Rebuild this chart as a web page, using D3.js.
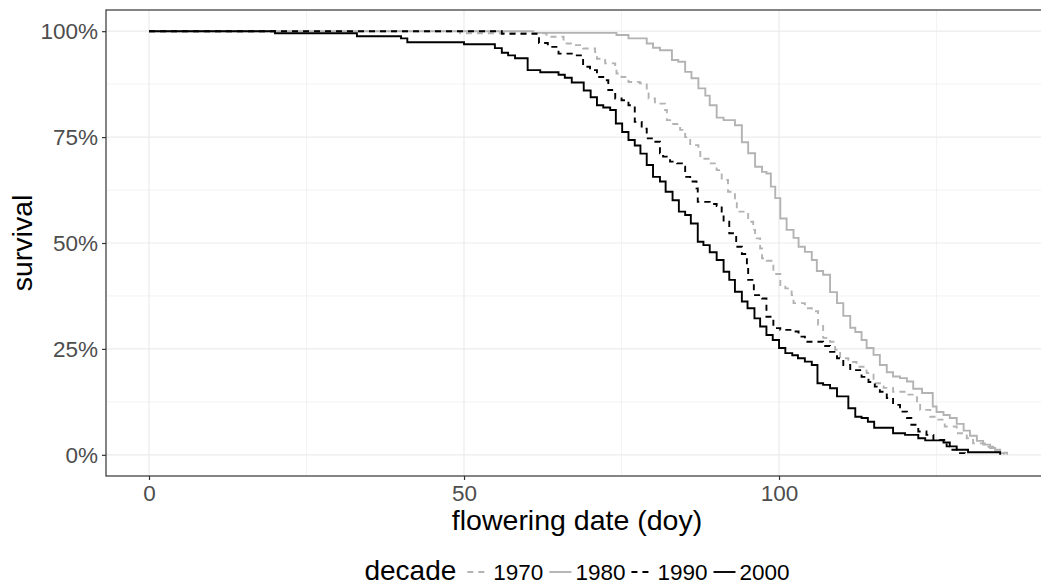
<!DOCTYPE html>
<html>
<head>
<meta charset="utf-8">
<script src="https://cdn.jsdelivr.net/npm/d3@7/dist/d3.min.js"></script>
<style>
  body { margin: 0; background: #fff; }
  svg { display: block; font-family: "Liberation Sans", Arial, sans-serif; }
</style>
</head>
<body>
<div id="chart"></div>
<script>
// survival curves: [flowering day, % not yet flowered]
var decades = ["1970", "1980", "1990", "2000"]

var surv1970 = [[0,100],[49.4,99.5],[63.1,98.7],[65.8,97.1],[67.3,96.7],[68.9,95.9],[70.8,95.1],[71.1,93.5],[72.4,92.4],[74.0,91.2],
  [74.2,90.0],[75.0,89.2],[76.1,88.0],[77.9,87.7],[79.0,86.1],[79.3,84.1],[80.3,82.9],[81.9,81.4],[82.2,79.0],[83.2,78.1],
  [84.3,76.7],[85.1,75.0],[85.9,73.1],[87.2,71.5],[87.5,69.9],[89.0,68.8],[90.1,67.2],[90.9,64.9],[91.9,62.1],[93.0,60.1],
  [93.3,57.4],[95.1,55.0],[95.9,53.1],[96.2,51.1],[97.0,48.7],[97.3,46.4],[98.0,45.8],[99.1,42.7],[100.2,40.1],[101.0,39.3],
  [102.0,37.7],[102.3,35.8],[104.1,34.6],[105.2,33.9],[106.2,30.7],[107.0,27.6],[108.1,26.7],[108.9,24.8],[109.7,22.8],[111.0,21.9],
  [112.3,20.8],[113.9,19.3],[115.0,16.9],[116.6,15.8],[118.1,14.9],[120.3,14.2],[121.9,12.2],[122.4,10.6],[124.0,9.0],[125.3,8.3],
  [126.3,6.7],[128.2,5.1],[129.8,3.9],[130.8,2.7],[133.0,1.9],[134.0,1.2],[135.1,0.5],[136.2,0]]

var surv1980 = [[0,100],[61.0,99.6],[74.2,99.1],[76.1,98.3],[79.0,97.1],[80.0,96.1],[81.1,95.5],[83.0,93.2],[84.0,92.8],[85.1,90.4],
  [86.1,88.9],[87.2,86.5],[88.3,84.8],[89.0,82.5],[90.1,79.6],[91.2,79.0],[93.0,77.8],[94.1,73.8],[95.1,71.2],[96.2,68.0],
  [97.3,66.8],[98.0,66.4],[98.7,63.3],[99.4,60.6],[100.2,55.8],[101.2,53.1],[102.3,51.2],[103.1,49.1],[104.1,47.9],[105.2,46.0],
  [106.0,43.4],[107.0,42.5],[108.1,38.4],[109.2,35.8],[110.2,32.8],[111.3,30.0],[112.1,29.0],[113.1,27.1],[113.9,25.2],[115.0,23.6],
  [116.0,21.2],[117.1,19.5],[118.1,18.5],[119.2,18.1],[120.3,17.3],[121.3,15.6],[122.7,14.6],[124.4,11.4],[125.0,10.1],[126.1,9.4],
  [127.1,8.7],[128.2,7.3],[129.3,5.7],[130.3,4.5],[131.4,3.3],[132.4,2.4],[133.5,1.6],[134.3,0.8],[135.1,0.4],[135.7,0]]

var surv1990 = [[0,100],[56.0,99.4],[61.9,97.2],[63.3,96.3],[65.0,94.7],[67.1,94.3],[68.9,91.6],[70.0,90.8],[71.1,89.2],[72.1,88.4],
  [72.9,86.1],[74.0,84.1],[75.0,83.7],[76.1,82.5],[77.1,78.6],[78.2,77.0],[79.0,74.7],[80.0,73.9],[81.1,71.2],[81.6,70.4],
  [82.7,69.2],[83.8,68.8],[84.8,68.0],[85.1,65.6],[85.9,64.5],[86.9,62.9],[87.1,59.7],[89.0,59.2],[90.1,58.7],[90.9,57.4],
  [91.2,55.0],[92.1,52.3],[93.2,49.1],[94.1,47.4],[94.9,45.2],[95.1,41.3],[96.0,37.7],[97.3,36.9],[98.0,32.6],[99.1,29.9],
  [100.2,29.5],[102.0,29.1],[103.1,27.9],[104.1,26.7],[107.0,25.7],[108.1,24.3],[109.2,22.8],[110.2,21.2],[111.3,20.0],[113.1,18.4],
  [114.2,17.2],[115.2,16.1],[116.0,14.9],[117.1,13.4],[118.1,11.8],[119.2,10.2],[120.3,8.7],[121.0,7.1],[122.1,5.5],[123.4,4.7],
  [124.5,3.5],[126.6,2.0],[127.1,1.2],[128.2,0.4],[129.5,0]]

var surv2000 = [[0,100],[20.0,99.5],[33.0,98.8],[40.0,98.3],[41.0,97.4],[50.0,96.9],[54.9,96.0],[56.0,94.9],[57.0,94.3],[58.1,93.6],
  [60.1,90.8],[62.1,90.3],[65.0,89.7],[66.0,89.0],[67.1,87.9],[69.0,86.0],[70.1,84.4],[71.1,82.5],[72.1,82.0],[73.2,81.4],
  [74.1,78.2],[75.1,76.2],[76.1,74.3],[77.1,73.0],[78.0,71.1],[79.0,68.4],[80.0,65.6],[81.1,64.5],[82.0,62.1],[83.1,60.1],
  [84.1,57.4],[85.1,56.6],[86.0,54.6],[87.1,50.3],[88.0,49.5],[89.0,47.8],[90.1,46.0],[91.2,43.2],[92.1,41.3],[93.0,38.5],
  [94.1,36.2],[95.0,34.6],[96.1,32.2],[97.0,30.3],[98.0,28.3],[99.0,27.1],[100.0,25.2],[101.0,24.0],[102.1,23.5],[103.0,22.8],
  [104.1,22.0],[105.2,21.2],[106.1,16.9],[107.0,16.5],[108.1,15.7],[109.2,13.8],[111.0,11.0],[112.1,9.0],[113.1,8.7],[114.1,7.8],
  [115.1,6.4],[118.1,5.1],[120.0,4.7],[122.1,3.9],[123.2,3.4],[126.1,2.9],[127.1,2.0],[128.2,1.2],[130.0,0.6],[135.1,0]]

var xTicks = [0, 50, 100]
var xMinor = [25, 75, 125]
var yTicks = [0, 25, 50, 75, 100]
var yMinor = [12.5, 37.5, 62.5, 87.5]

var series = [surv1970, surv1980, surv1990, surv2000]
var colors = ["#b3b3b3", "#b3b3b3", "#000000", "#000000"]
var dashes = ["6,5", null, "6,5", null]

/////////////

var w = 1041
var h = 585
var panel = {left: 106, right: 1052, top: 10, bottom: 476}

var svg = d3.select("#chart")
  .append("svg")
  .attr("width", w)
  .attr("height", h)

// ggplot style 5% expansion on both axes
var x = d3.scaleLinear().domain([-6.825, 143.325]).range([panel.left, panel.right])
var y = d3.scaleLinear().domain([-5, 105]).range([panel.bottom, panel.top])

svg.append("clipPath").attr("id", "clip")
  .append("rect")
  .attr("x", panel.left).attr("y", panel.top)
  .attr("width", panel.right - panel.left).attr("height", panel.bottom - panel.top)

var grid = svg.append("g").attr("clip-path", "url(#clip)")

grid.selectAll(".vminor").data(xMinor).join("line")
  .attr("x1", function(d) { return x(d) }).attr("x2", function(d) { return x(d) })
  .attr("y1", panel.top).attr("y2", panel.bottom)
  .attr("stroke", "#ebebeb").attr("stroke-width", 0.6)

grid.selectAll(".hminor").data(yMinor).join("line")
  .attr("y1", function(d) { return y(d) }).attr("y2", function(d) { return y(d) })
  .attr("x1", panel.left).attr("x2", panel.right)
  .attr("stroke", "#ebebeb").attr("stroke-width", 0.6)

grid.selectAll(".vmajor").data(xTicks).join("line")
  .attr("x1", function(d) { return x(d) }).attr("x2", function(d) { return x(d) })
  .attr("y1", panel.top).attr("y2", panel.bottom)
  .attr("stroke", "#ebebeb").attr("stroke-width", 1.2)

grid.selectAll(".hmajor").data(yTicks).join("line")
  .attr("y1", function(d) { return y(d) }).attr("y2", function(d) { return y(d) })
  .attr("x1", panel.left).attr("x2", panel.right)
  .attr("stroke", "#ebebeb").attr("stroke-width", 1.2)

// km style steps
var line = d3.line()
  .x(function(d) { return x(d[0]) })
  .y(function(d) { return y(d[1]) })
  .curve(d3.curveStepAfter)

var curves = svg.append("g").attr("clip-path", "url(#clip)")
for (var i = 0; i < series.length; i++) {
  curves.append("path")
    .attr("d", line(series[i]))
    .attr("fill", "none")
    .attr("stroke", colors[i])
    .attr("stroke-width", 1.9)
    .attr("stroke-dasharray", dashes[i])
}

svg.append("rect")
  .attr("x", panel.left).attr("y", panel.top)
  .attr("width", panel.right - panel.left).attr("height", panel.bottom - panel.top)
  .attr("fill", "none").attr("stroke", "#333333").attr("stroke-width", 1.2)

// axes
var xAxis = svg.append("g")
  .attr("transform", "translate(0," + panel.bottom + ")")
  .call(d3.axisBottom(x).tickValues(xTicks).tickSize(4).tickPadding(5))
var yAxis = svg.append("g")
  .attr("transform", "translate(" + panel.left + ",0)")
  .call(d3.axisLeft(y).tickValues(yTicks).tickSize(4).tickPadding(4).tickFormat(function(d) { return d + "%" }))

svg.selectAll(".domain").remove()
svg.selectAll(".tick line").attr("stroke", "#333333").attr("stroke-width", 1.2)
svg.selectAll(".tick text")
  .attr("fill", "#4d4d4d")
  .style("font-size", "22.5px")
  .style("font-family", "'Liberation Sans', Arial, sans-serif")

svg.append("text")
  .attr("x", (panel.left + panel.right) / 2 - 2)
  .attr("y", 530)
  .attr("text-anchor", "middle")
  .style("font-size", "28.5px")
  .text("flowering date (doy)")

svg.append("text")
  .attr("transform", "translate(32," + (panel.top + panel.bottom) / 2 + ") rotate(-90)")
  .attr("text-anchor", "middle")
  .style("font-size", "28.5px")
  .text("survival")

// legend along the bottom
var legend = svg.append("g")
var title = legend.append("text")
  .attr("x", 0).attr("y", 579.5)
  .style("font-size", "28px")
  .text("decade")

var cx = title.node().getComputedTextLength() + 10
for (var j = 0; j < decades.length; j++) {
  legend.append("line")
    .attr("x1", cx + 1).attr("x2", cx + 23)
    .attr("y1", 572).attr("y2", 572)
    .attr("stroke", colors[j])
    .attr("stroke-width", 1.9)
    .attr("stroke-dasharray", dashes[j])
  var lab = legend.append("text")
    .attr("x", cx + 27).attr("y", 579.5)
    .style("font-size", "22.5px")
    .text(decades[j])
  cx = cx + 27 + lab.node().getComputedTextLength() + 5
}
var legendW = cx - 5
legend.attr("transform", "translate(" + ((panel.left + panel.right) / 2 - 2 - legendW / 2) + ",0)")
</script>
</body>
</html>
